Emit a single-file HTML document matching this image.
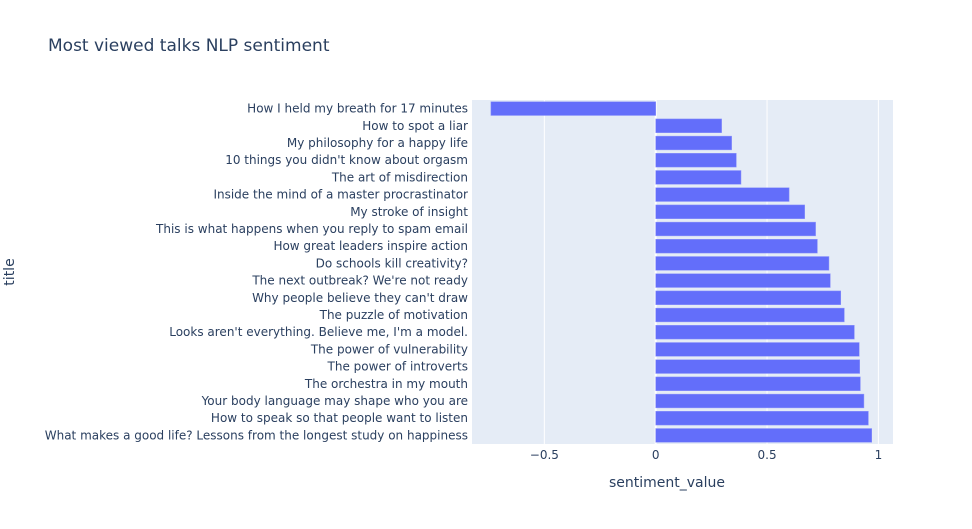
<!DOCTYPE html>
<html><head><meta charset="utf-8"><style>
body{margin:0;background:#fff;font-family:"DejaVu Sans","Liberation Sans",sans-serif;}
svg text{font-family:"DejaVu Sans","Liberation Sans",sans-serif;fill:#2a3f5f;}
</style></head><body>
<svg id="chart" width="972" height="525">
<text x="48" y="51" font-size="17">Most viewed talks NLP sentiment</text>
<rect x="472" y="100" width="421" height="344" fill="#e5ecf6"/>
<g id="grid"></g><g id="bars"></g><g id="ylabels"></g><g id="xticks"></g>
<text x="667" y="487" font-size="14" text-anchor="middle">sentiment_value</text>
<text transform="translate(14,272) rotate(-90)" font-size="14" text-anchor="middle">title</text>
</svg>
<script>
const titles=["How I held my breath for 17 minutes","How to spot a liar","My philosophy for a happy life","10 things you didn't know about orgasm","The art of misdirection","Inside the mind of a master procrastinator","My stroke of insight","This is what happens when you reply to spam email","How great leaders inspire action","Do schools kill creativity?","The next outbreak? We're not ready","Why people believe they can't draw","The puzzle of motivation","Looks aren't everything. Believe me, I'm a model.","The power of vulnerability","The power of introverts","The orchestra in my mouth","Your body language may shape who you are","How to speak so that people want to listen","What makes a good life? Lessons from the longest study on happiness"];
const values=[-0.74,0.296,0.341,0.362,0.383,0.599,0.669,0.718,0.726,0.778,0.784,0.831,0.847,0.892,0.914,0.916,0.919,0.935,0.955,0.970];
const xTicks=[-0.5,0,0.5,1];
const xTickLabels=["\u22120.5","0","0.5","1"];
const NS="http://www.w3.org/2000/svg";
const x=v=>655.7+v*222.7;
const top0=100,band=344/titles.length;
const y=i=>top0+i*band;
function mk(t,a,p){const e=document.createElementNS(NS,t);for(const k in a)e.setAttribute(k,a[k]);document.getElementById(p).appendChild(e);return e;}
xTicks.forEach((t,i)=>{
 const g=mk('line',{x1:x(t),x2:x(t),y1:100,y2:444,stroke:'#fff','stroke-width':t===0?2:1},'grid');
 
 
 const l=mk('text',{x:x(t),y:459,'font-size':12,'text-anchor':'middle'},'xticks');
 l.textContent=xTickLabels[i];
 
 
});
titles.forEach((tt,i)=>{
 const v=values[i];
 const b=mk('rect',{x:Math.min(x(0),x(v)),y:y(i)+band*0.1,width:Math.abs(x(v)-x(0)),height:band*0.8,fill:'#636efa',stroke:'#8d94fb','stroke-width':0.5},'bars');
 
 
 const l=mk('text',{x:468,y:y(i)+band/2+4,'font-size':12,'text-anchor':'end'},'ylabels');
 l.textContent=tt;
 
 
});
</script>
</body></html>
